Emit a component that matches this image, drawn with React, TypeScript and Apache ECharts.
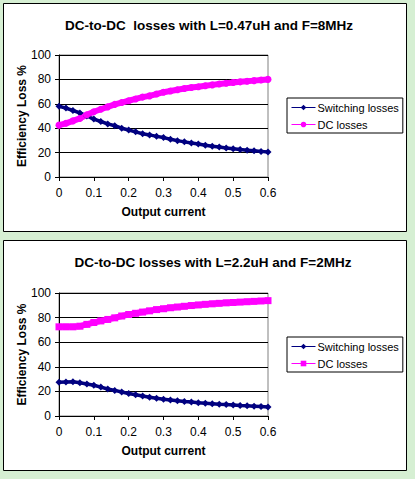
import { useEffect, useRef } from 'react'
import * as echarts from 'echarts'

const current = [
  0, 0.02, 0.04, 0.06, 0.08, 0.1, 0.12, 0.14, 0.16, 0.18, 0.2, 0.22, 0.24, 0.26, 0.28, 0.3,
  0.32, 0.34, 0.36, 0.38, 0.4, 0.42, 0.44, 0.46, 0.48, 0.5, 0.52, 0.54, 0.56, 0.58, 0.6
]

// L=0.47uH, F=8MHz
const switching8 = [
  58, 56.5, 54.5, 52.5, 50, 47.5, 45.5, 43.5, 42, 40, 38.5, 37, 35.5, 34.5, 33.3, 32.3,
  31, 29.8, 28.8, 27.8, 27, 26, 25.2, 24.5, 23.8, 23.2, 22.5, 22, 21.5, 21, 20.5
]
const dc8 = [
  42.5, 44, 46, 48, 51, 53.5, 55.5, 57.5, 59.5, 61, 62.5, 64, 65.5, 66.5, 68, 69.5,
  70.5, 71.5, 72.5, 73.3, 74, 74.8, 75.5, 76.2, 76.8, 77.4, 78, 78.5, 79, 79.5, 80
]

// L=2.2uH, F=2MHz
const switching2 = [
  27.5, 27.7, 27.8, 27, 26, 25, 23.5, 22, 20.8, 19.5, 18.3, 17.3, 16.3, 15.3, 14.5, 13.7,
  13, 12.4, 11.8, 11.3, 10.8, 10.4, 10, 9.6, 9.3, 9, 8.6, 8.3, 8, 7.7, 7.4
]
const dc2 = [
  72.5, 72.5, 72.5, 73, 74.5, 76, 77.3, 78.5, 79.8, 81.3, 82.5, 83.5, 84.5, 85.5, 86.5, 87.2,
  88, 88.6, 89.2, 89.8, 90.3, 90.8, 91.2, 91.6, 92, 92.3, 92.6, 92.9, 93.2, 93.5, 93.8
]

const titles = [
  'DC-to-DC  losses with L=0.47uH and F=8MHz',
  'DC-to-DC losses with L=2.2uH and F=2MHz'
]
const seriesNames = ['Switching losses', 'DC losses']

const FONT = 'Arial, "Liberation Sans", sans-serif'
const NAVY = '#000080'
const MAGENTA = '#ff00ff'

const pair = (xs: number[], ys: number[]) => xs.map((x, i) => [x, ys[i]])

// series ids per chart -> shown label
const ids = [
  ['sw8', 'dc8'],
  ['sw2', 'dc2']
]
const labelOf = (id: string) => (id.startsWith('sw') ? seriesNames[0] : seriesNames[1])

export default function App() {
  const ref = useRef<HTMLDivElement>(null)

  useEffect(() => {
    if (!ref.current) return
    const chart = echarts.init(ref.current, undefined, { renderer: 'svg' })

    const grids = [
      { left: 59, top: 55, width: 209, height: 122 },
      { left: 59, top: 293, width: 209, height: 123 }
    ]

    const xAxis = grids.map((_, i) => ({
      type: 'value' as const,
      gridIndex: i,
      min: 0,
      max: 0.6,
      interval: 0.1,
      name: 'Output current',
      nameLocation: 'middle' as const,
      nameGap: 29,
      nameMoveOverlap: false,
      nameTextStyle: { fontFamily: FONT, fontSize: 12, fontWeight: 'bold' as const, color: '#000' },
      axisLine: { show: true, lineStyle: { color: '#000', width: 1 } },
      axisTick: { show: true, inside: false, length: 4, lineStyle: { color: '#000' } },
      axisLabel: { fontFamily: FONT, fontSize: 12, color: '#000', margin: 10 },
      splitLine: { show: false }
    }))

    const yAxis = grids.map((_, i) => ({
      type: 'value' as const,
      gridIndex: i,
      min: 0,
      max: 100,
      interval: 20,
      name: 'Efficiency Loss %',
      nameLocation: 'middle' as const,
      nameGap: 31,
      nameMoveOverlap: false,
      nameTextStyle: { fontFamily: FONT, fontSize: 12, fontWeight: 'bold' as const, color: '#000' },
      axisLine: { show: true, lineStyle: { color: '#000', width: 1 } },
      axisTick: { show: true, inside: false, length: 4, lineStyle: { color: '#000' } },
      axisLabel: { fontFamily: FONT, fontSize: 12, color: '#000', margin: 8 },
      splitLine: { show: true, lineStyle: { color: '#000', width: 1 } }
    }))

    const switchingSeries = (data: number[], i: number) => ({
      name: ids[i][0],
      type: 'line' as const,
      xAxisIndex: i,
      yAxisIndex: i,
      data: pair(current, data),
      symbol: 'diamond',
      symbolSize: 7,
      showAllSymbol: true,
      itemStyle: { color: NAVY },
      lineStyle: { color: NAVY, width: 3.5 }
    })
    const dcSeries = (data: number[], i: number, symbol: string) => ({
      name: ids[i][1],
      type: 'line' as const,
      xAxisIndex: i,
      yAxisIndex: i,
      data: pair(current, data),
      symbol,
      symbolSize: 7,
      showAllSymbol: true,
      itemStyle: { color: MAGENTA },
      lineStyle: { color: MAGENTA, width: 6 },
      z: 3
    })

    const legendBase = {
      orient: 'vertical' as const,
      left: 287,
      backgroundColor: '#fff',
      borderColor: '#000',
      borderWidth: 1,
      padding: [4, 4, 3, 4],
      itemWidth: 24,
      itemHeight: 7,
      itemGap: 6,
      lineStyle: { width: 1 },
      formatter: labelOf,
      textStyle: { fontFamily: FONT, fontSize: 11, color: '#000', padding: [0, 0, 0, -3] }
    }

    chart.setOption({
      animation: false,
      backgroundColor: '#d6efd3',
      graphic: [
        {
          type: 'rect',
          shape: { x: 3.5, y: 3.5, width: 403, height: 228 },
          style: { fill: '#fff', stroke: '#000', lineWidth: 1 },
          z: -10
        },
        {
          type: 'rect',
          shape: { x: 3.5, y: 240.5, width: 403, height: 230 },
          style: { fill: '#fff', stroke: '#000', lineWidth: 1 },
          z: -10
        }
      ],
      title: [
        {
          text: titles[0],
          left: 204,
          top: 13,
          textAlign: 'center',
          textStyle: { fontFamily: FONT, fontSize: 13.5, fontWeight: 'bold', color: '#000' }
        },
        {
          text: titles[1],
          left: 208,
          top: 250,
          textAlign: 'center',
          textStyle: { fontFamily: FONT, fontSize: 13.5, fontWeight: 'bold', color: '#000' }
        }
      ],
      legend: [
        { ...legendBase, top: 98, data: ids[0] },
        { ...legendBase, top: 337, data: ids[1] }
      ],
      grid: grids.map((g) => ({
        ...g,
        show: true,
        backgroundColor: '#fff',
        borderColor: '#808080',
        borderWidth: 1
      })),
      xAxis,
      yAxis,
      series: [
        switchingSeries(switching8, 0),
        dcSeries(dc8, 0, 'circle'),
        switchingSeries(switching2, 1),
        dcSeries(dc2, 1, 'rect')
      ]
    })

    return () => chart.dispose()
  }, [])

  return (
    <div
      ref={ref}
      style={{ position: 'absolute', left: 0, top: 0, width: 415, height: 479 }}
    />
  )
}
